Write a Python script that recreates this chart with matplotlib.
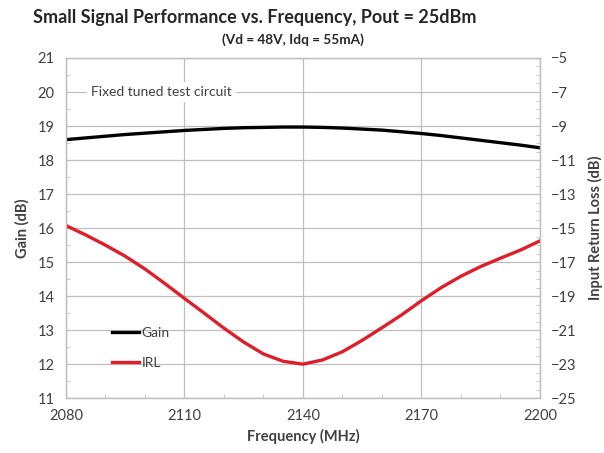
import matplotlib.pyplot as plt
from matplotlib.ticker import MultipleLocator, FixedLocator

plt.rcParams['font.family'] = ['Lato', 'DejaVu Sans']

freq = [2080, 2085, 2090, 2095, 2100, 2105, 2110, 2115, 2120, 2125, 2130, 2135, 2140,
        2145, 2150, 2155, 2160, 2165, 2170, 2175, 2180, 2185, 2190, 2195, 2200]
gain = [18.60, 18.65, 18.70, 18.75, 18.79, 18.83, 18.87, 18.90, 18.93, 18.95, 18.96, 18.97, 18.97,
        18.96, 18.94, 18.91, 18.88, 18.83, 18.78, 18.72, 18.65, 18.58, 18.51, 18.44, 18.36]
irl = [-14.85, -15.4, -16.0, -16.65, -17.4, -18.25, -19.13, -20.0, -20.88, -21.7, -22.4, -22.83, -23.0,
       -22.75, -22.27, -21.6, -20.86, -20.1, -19.27, -18.5, -17.83, -17.26, -16.77, -16.3, -15.75]

x_ticks = [2080, 2110, 2140, 2170, 2200]
irl_ticks = [-25, -23, -21, -19, -17, -15, -13, -11, -9, -7, -5]
grid_c = '#bfbfbf'
text_c = '#404040'

fig = plt.figure(figsize=(6.04, 4.53), dpi=100)
ax = fig.add_axes([0.109, 0.121, 0.785, 0.751])
ax2 = ax.twinx()

l1, = ax.plot(freq, gain, color='black', lw=2.4, solid_joinstyle='round', label='Gain')
l2, = ax2.plot(freq, irl, color='#dc1f2b', lw=2.4, solid_joinstyle='round', label='IRL')

ax.set_xlim(2080, 2200)
ax.set_ylim(11, 21)
ax2.set_ylim(-25, -5)
ax.set_xticks(x_ticks)
ax.xaxis.set_minor_locator(MultipleLocator(10))
ax.yaxis.set_major_locator(MultipleLocator(1))
ax.yaxis.set_minor_locator(MultipleLocator(0.5))
ax2.yaxis.set_major_locator(FixedLocator(irl_ticks))
ax2.yaxis.set_minor_locator(MultipleLocator(0.5))

ax.grid(True, which='major', color=grid_c, lw=0.9)
ax.set_axisbelow(True)

for a in (ax, ax2):
    for s in a.spines.values():
        s.set_color(grid_c)
        s.set_linewidth(0.9)
    a.tick_params(which='both', direction='in', color=grid_c, labelsize=10.5, labelcolor=text_c)
    a.tick_params(which='major', length=0, pad=8)
    a.tick_params(which='minor', length=3)

ax.set_xlabel('Frequency (MHz)', fontsize=10.5, fontweight='bold', color=text_c, labelpad=4)
ax.set_ylabel('Gain (dB)', fontsize=10.5, fontweight='bold', color=text_c, labelpad=6)
ax2.set_ylabel('Input Return Loss (dB)', fontsize=10.5, fontweight='bold', color=text_c, labelpad=8)

fig.text(0.422, 0.962, 'Small Signal Performance vs. Frequency, Pout = 25dBm',
         ha='center', va='center', fontsize=13, fontweight='bold', color='#262626')
fig.text(0.485, 0.913, '(Vd = 48V, Idq = 55mA)',
         ha='center', va='center', fontsize=9.8, fontweight='bold', color='#262626')

ax.text(2086.3, 20, 'Fixed tuned test circuit', fontsize=10, color=text_c, va='center',
        bbox=dict(facecolor='white', edgecolor='none', pad=3))

ax.legend([l1, l2], ['Gain', 'IRL'], loc='lower left', bbox_to_anchor=(0.07, 0.05),
          frameon=False, handlelength=2.0, handletextpad=0.15, labelspacing=1.3,
          fontsize=10, labelcolor=text_c)

fig.savefig('out.png', dpi=100)
